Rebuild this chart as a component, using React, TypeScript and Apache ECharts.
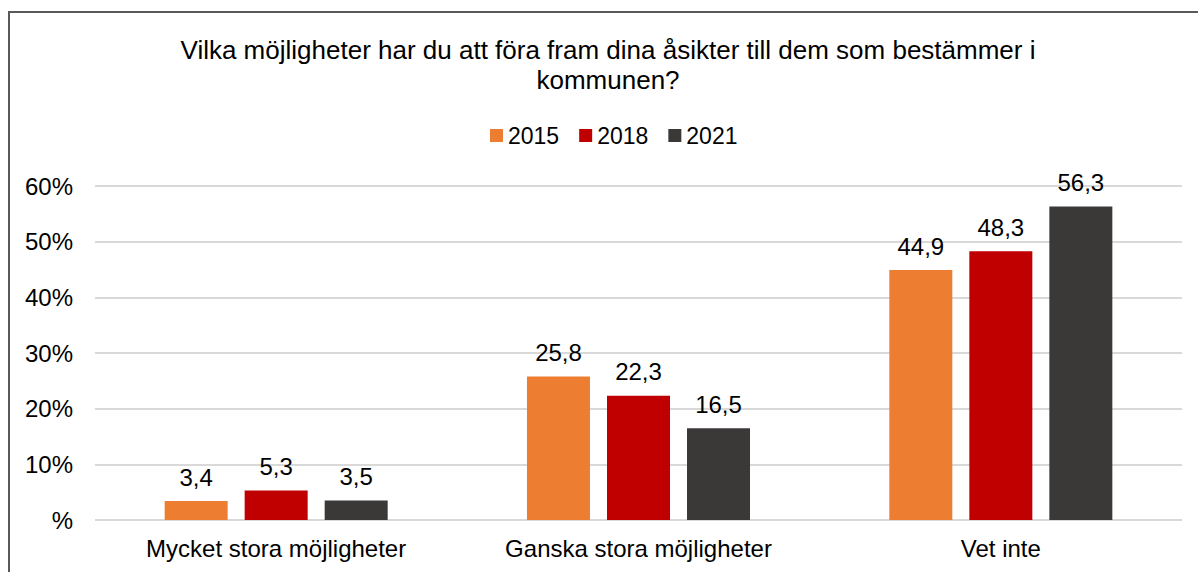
import React, { useEffect, useRef } from "react";
import * as echarts from "echarts";

const categories = ["Mycket stora möjligheter", "Ganska stora möjligheter", "Vet inte"];
const years = ["2015", "2018", "2021"];
const values2015 = [3.4, 25.8, 44.9];
const values2018 = [5.3, 22.3, 48.3];
const values2021 = [3.5, 16.5, 56.3];
const colors = ["#ED7D31", "#C00000", "#3B3838"];
const titleText = "Vilka möjligheter har du att föra fram dina åsikter till dem som bestämmer i\nkommunen?";

export default function App() {
  const ref = useRef<HTMLDivElement>(null);
  useEffect(() => {
    if (!ref.current) return;
    const chart = echarts.init(ref.current, null, { renderer: "svg" });
    const seriesData = [values2015, values2018, values2021];
    const font = "Liberation Sans, Arial, sans-serif";
    chart.setOption({
      animation: false,
      textStyle: { fontFamily: font },
      title: {
        text: titleText,
        left: 603,
        textAlign: "center",
        top: 30,
        textStyle: { fontSize: 26, fontWeight: "normal", color: "#000", lineHeight: 30, fontFamily: font },
      },
      legend: {
        top: 119,
        left: 485,
        data: years,
        itemWidth: 13,
        itemHeight: 13,
        itemGap: 20,
        icon: "rect",
        textStyle: { fontSize: 23, color: "#000", fontFamily: font },
      },
      graphic: [
        {
          type: "rect",
          shape: { x: 9, y: 12, width: 1400, height: 800 },
          style: { fill: "none", stroke: "#595959", lineWidth: 2 },
          silent: true,
        },
      ],
      grid: { left: 95, right: 16, top: 186, bottom: 52, containLabel: false },
      xAxis: {
        type: "category",
        data: categories,
        axisLine: { show: false },
        axisTick: { show: false },
        axisLabel: { fontSize: 24, color: "#000", margin: 16, fontFamily: font },
      },
      yAxis: {
        type: "value",
        min: 0,
        max: 60,
        interval: 10,
        axisLine: { show: false },
        axisTick: { show: false },
        splitLine: { lineStyle: { color: "#D9D9D9", width: 2 } },
        axisLabel: {
          fontSize: 24,
          color: "#000",
          margin: 22,
          fontFamily: font,
          formatter: (v: number) => (v === 0 ? "%" : v + "%"),
        },
      },
      series: years.map((y, i) => ({
        name: y,
        type: "bar",
        data: seriesData[i],
        barWidth: 63,
        barGap: "27%",
        itemStyle: { color: colors[i] },
        label: {
          show: true,
          position: "top",
          distance: 12,
          fontSize: 24,
          color: "#000",
          fontFamily: font,
          formatter: (p: any) => String(p.value).replace(".", ","),
        },
      })),
    });
    return () => chart.dispose();
  }, []);
  return (
    <div
      ref={ref}
      style={{ position: "fixed", left: 0, top: 0, width: 1198, height: 572, background: "#fff" }}
    />
  );
}
